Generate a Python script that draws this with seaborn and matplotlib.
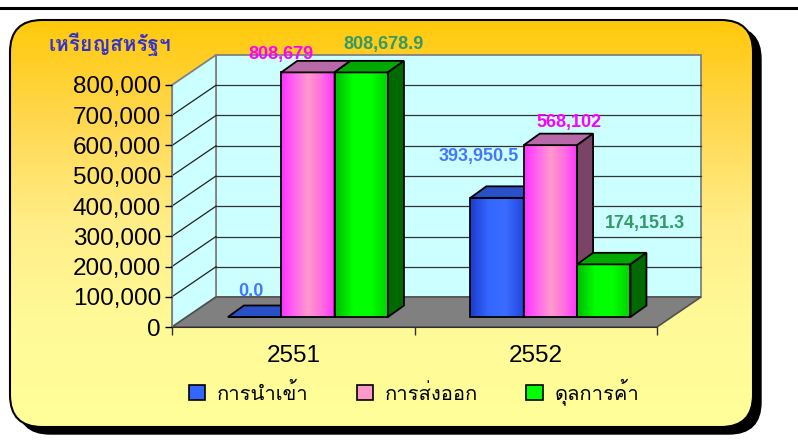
import numpy as np
import pandas as pd
import seaborn as sns
import matplotlib.pyplot as plt
from matplotlib import font_manager
from matplotlib.ft2font import FT2Font
from matplotlib.patches import FancyBboxPatch, Rectangle, Polygon, Patch
from matplotlib.transforms import ScaledTranslation, IdentityTransform
from matplotlib.colors import LinearSegmentedColormap
from matplotlib.ticker import FuncFormatter

# ข้อมูล
years = ['2551', '2552']
series = ['การนำเข้า', 'การส่งออก', 'ดุลการค้า']
imports = [0.0, 393950.5]
exports = [808679, 568102]
balance = [808678.9, 174151.3]
value_labels = {'การนำเข้า': ['0.0', '393,950.5'],
                'การส่งออก': ['808,679', '568,102'],
                'ดุลการค้า': ['808,678.9', '174,151.3']}
y_ticks = [0, 100000, 200000, 300000, 400000, 500000, 600000, 700000, 800000]
unit_label = 'เหรียญสหรัฐฯ'

colors = ['#3366FF', '#FF66E6', '#00FF00']
grad_colors = [['#1E3CCC', '#3366FF', '#3A6CFF', '#2246DD'],
               ['#FF33FF', '#FF66EE', '#FF99CC', '#FF70E0', '#FF33FF'],
               ['#00BB00', '#00FF00', '#00FF00', '#00D000']]
top_colors = ['#2A50C8', '#B86AA8', '#00A800']
side_colors = ['#1A2E99', '#7A4466', '#006A00']
label_colors = ['#4477FF', '#FF00FF', '#339966']
# ตำแหน่งป้ายค่า (px จากขอบบนด้านหน้าของแท่ง)
label_offsets = {'การนำเข้า': [(-4, 25), (-18, 41)],
                 'การส่งออก': [(-27, 18), (19, 23)],
                 'ดุลการค้า': [(22, 28), (41, 41)]}


def find_thai_font():
    for f in font_manager.fontManager.ttflist:
        try:
            if 0x0E01 in FT2Font(f.fname).get_charmap():
                return f.name
        except Exception:
            continue
    return None


thai = find_thai_font()
thai_family = ([thai] if thai else []) + ['Liberation Sans', 'DejaVu Sans']
plt.rcParams['font.family'] = ['Liberation Sans', 'DejaVu Sans']

df = pd.DataFrame({
    'year': years * 3,
    'kind': [s for s in series for _ in years],
    'value': imports + exports + balance,
})

fig = plt.figure(figsize=(7.98, 4.40), dpi=100)

# พื้นหลัง (พิกัดพิกเซล)
bg = fig.add_axes([0, 0, 1, 1], zorder=-10)
bg.set_xlim(0, 798)
bg.set_ylim(440, 0)
bg.axis('off')
bg.plot([0, 798], [8, 8], color='black', lw=2.2)
shadow = FancyBboxPatch((10 + 8, 20 + 7), 743, 407,
                        boxstyle='round,pad=0,rounding_size=32',
                        facecolor='black', edgecolor='black', lw=1)
bg.add_patch(shadow)
panel = FancyBboxPatch((10, 20), 743, 407, boxstyle='round,pad=0,rounding_size=32',
                       facecolor='none', edgecolor='black', lw=1.5, zorder=3)
bg.add_patch(panel)
panel_fill = FancyBboxPatch((10, 20), 743, 407, boxstyle='round,pad=0,rounding_size=32',
                            facecolor='#FFE070', edgecolor='none', zorder=1)
bg.add_patch(panel_fill)
ycm = LinearSegmentedColormap.from_list('bgc', ['#FFC90A', '#FFD850', '#FFEE88', '#FFFA98', '#FFFF99'])
im = bg.imshow(np.linspace(0, 1, 256).reshape(-1, 1), extent=(10, 753, 427, 20),
               cmap=ycm, aspect='auto', zorder=2)
im.set_clip_path(panel_fill)

# แกนหลัก (ระนาบหน้า)
ax = fig.add_axes([172 / 798, (440 - 327) / 440, 485 / 798, 242 / 440])
sns.barplot(data=df, x='year', y='value', hue='kind', hue_order=series,
            palette=colors, width=0.66, ax=ax, edgecolor='black',
            linewidth=1.3, legend=False)
ax.set_xlim(-0.5, 1.5)
ax.set_ylim(0, 800000)
ax.patch.set_visible(False)
ax.set_xlabel('')
ax.set_ylabel('')
for s in ['top', 'right']:
    ax.spines[s].set_visible(False)
ax.spines['left'].set_color('#808080')
ax.spines['bottom'].set_color('#303030')
ax.spines['left'].set_zorder(1)

ax.set_yticks(y_ticks)
ax.yaxis.set_major_formatter(FuncFormatter(lambda v, p: f'{v:,.0f}'))
ax.tick_params(axis='y', length=5, width=1, pad=3, labelsize=17.5, colors='black')
ax.set_xticks([-0.5, 0.5, 1.5])
ax.set_xticklabels(['', '', ''])
ax.set_xticks([0, 1], minor=True)
ax.set_xticklabels(years, minor=True)
ax.tick_params(axis='x', which='major', length=6, width=1, color='#303030')
ax.tick_params(axis='x', which='minor', length=0, pad=13, labelsize=17.5)

to_px = ax.transData.transform
wall_d = np.array([44.0, 30.0])
wall_trans = ax.transData + ScaledTranslation(wall_d[0] / 100, wall_d[1] / 100, fig.dpi_scale_trans)

# ผนังด้านหลัง
ax.add_patch(Rectangle((-0.5, 0), 2, 800000, transform=wall_trans, facecolor='#CCFFFF',
                       edgecolor='#808080', lw=1.3, zorder=0.5, clip_on=False))
for t in y_ticks[1:-1]:
    ax.plot([-0.5, 1.5], [t, t], transform=wall_trans, color='#333333', lw=0.9,
            zorder=0.6, clip_on=False)
# ผนังด้านซ้าย
f0, f1 = to_px((-0.5, 0)), to_px((-0.5, 800000))
ax.add_patch(Polygon([f0, f1, f1 + wall_d, f0 + wall_d], closed=True, transform=IdentityTransform(),
                     facecolor='#CCFFFF', edgecolor='#808080', lw=1.3, zorder=0.5, clip_on=False))
for t in y_ticks[1:-1]:
    p = to_px((-0.5, t))
    ax.plot([p[0], p[0] + wall_d[0]], [p[1], p[1] + wall_d[1]], transform=IdentityTransform(),
            color='#202020', lw=0.9, zorder=0.6, clip_on=False)
# พื้น
g0, g1 = to_px((-0.5, 0)), to_px((1.5, 0))
ax.add_patch(Polygon([g0, g1, g1 + wall_d, g0 + wall_d], closed=True, transform=IdentityTransform(),
                     facecolor='#808080', edgecolor='#505050', lw=1.2, zorder=0.7, clip_on=False))

# แท่งแบบสามมิติ
bar_shift = wall_d / 3
bar_trans = ax.transData + ScaledTranslation(bar_shift[0] / 100, bar_shift[1] / 100, fig.dpi_scale_trans)
bar_d = np.array([16.0, 11.5])
bars = []
for i, cont in enumerate(ax.containers):
    for j, p in enumerate(cont):
        bars.append((p.get_x(), i, j, p))
bars.sort(key=lambda b: b[0])
for k, (x0, i, j, p) in enumerate(bars):
    z = 2 + k * 0.5
    p.set_transform(bar_trans)
    p.set_clip_on(False)
    w, h = p.get_width(), p.get_height()
    if h > 0:
        cmap = LinearSegmentedColormap.from_list(f'g{i}', grad_colors[i])
        ax.imshow(np.linspace(0, 1, 64).reshape(1, -1), extent=(x0, x0 + w, 0, h),
                  transform=bar_trans, cmap=cmap, aspect='auto', zorder=z, clip_on=False)
        p.set_facecolor('none')
    p.set_zorder(z + 0.05)
    bl = bar_trans.transform((x0, 0))
    tl = bar_trans.transform((x0, h))
    tr = bar_trans.transform((x0 + w, h))
    br = bar_trans.transform((x0 + w, 0))
    ax.add_patch(Polygon([tl, tr, tr + bar_d, tl + bar_d], closed=True, transform=IdentityTransform(),
                         facecolor=top_colors[i], edgecolor='black', lw=1.3, zorder=z + 0.1, clip_on=False))
    ax.add_patch(Polygon([br, tr, tr + bar_d, br + bar_d], closed=True, transform=IdentityTransform(),
                         facecolor=side_colors[i], edgecolor='black', lw=1.3, zorder=z + 0.1, clip_on=False))
    s = series[i]
    dx, dy = label_offsets[s][j]
    ax.annotate(value_labels[s][j], xy=(x0 + w / 2, h), xycoords=bar_trans,
                xytext=(dx * 0.72, dy * 0.72), textcoords='offset points',
                ha='center', va='center', fontsize=13, fontweight='bold',
                color=label_colors[i], zorder=20, annotation_clip=False)

ax.set_xlim(-0.5, 1.5)
ax.set_ylim(0, 800000)

fig.text(49 / 798, 1 - 44 / 440, unit_label, family=thai_family, fontsize=15,
         fontweight='bold', color='#3333CC', ha='left', va='center')

handles = [Patch(facecolor=c, edgecolor='black', lw=1.2) for c in ['#3366FF', '#FF99CC', '#00FF00']]
fig.legend(handles, series, loc='center', bbox_to_anchor=(414 / 798, 1 - 392 / 440), ncol=3,
           frameon=False, prop=font_manager.FontProperties(family=thai_family, size=14.5),
           handlelength=0.8, handleheight=0.8, handletextpad=0.6, columnspacing=2.4)

fig.savefig('out.png', dpi=100)
